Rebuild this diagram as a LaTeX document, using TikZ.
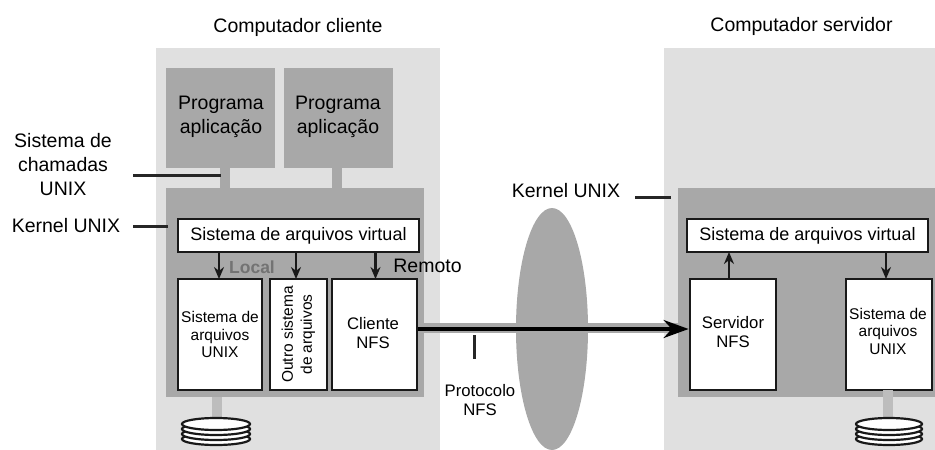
\documentclass[tikz,border=0pt]{standalone}
\usepackage{fontspec}
\setmainfont{Liberation Sans}
\usetikzlibrary{arrows, arrows.meta, shapes.geometric}

\definecolor{machinegrey}{HTML}{E0E0E0}
\definecolor{kernelgrey}{HTML}{A8A8A8}
\definecolor{stemgrey}{HTML}{BDBDBD}

\tikzset{
  region/.style={anchor=north west, inner sep=0pt, outer sep=0pt},
  fsbox/.style={draw=black!90, line width=2.8pt, fill=white, inner sep=0pt, align=center, font=\fontsize{15.5}{17.5}\selectfont},
  nfstext/.style={inner sep=0pt, align=center, font=\fontsize{16.7}{19}\selectfont},
  lbl/.style={inner sep=0pt, align=center, font=\fontsize{19.5}{24}\selectfont},
  tick/.style={draw=black!85, line width=3pt},
  stem/.style={draw=stemgrey, line width=9.5pt},
  call/.style={->, draw=black!90, line width=2.6pt}
}

% one stack of disks, centred on the top of the stack
\newcommand{\diskstack}[3]{
  \foreach \d in {3,2,1,0}
    \draw[black!90, line width=2.2pt, fill=white] (#1,#2+\d*5) ellipse (#3 and 6);
}

\begin{document}
\begin{tikzpicture}[x=1pt,y=-1pt,>={Stealth[length=12pt,width=10pt]}]
  \useasboundingbox (0,0) rectangle (935,450);

% define the two machines
  \node[region, fill=machinegrey, minimum width=284pt, minimum height=402pt] (client) at (156,48) {};
  \node[region, fill=machinegrey, minimum width=271pt, minimum height=402pt] (server) at (664,48) {};
  \node[lbl] (clienttitle) at (298,27) {Computador cliente};
  \node[lbl] (servertitle) at (801.5,26) {Computador servidor};

% define the network
  \node[ellipse, fill=kernelgrey, inner sep=0pt, minimum width=72pt, minimum height=242pt] (net) at (552,329) {};

% define the kernels
  \node[region, fill=kernelgrey, minimum width=258pt, minimum height=209pt] (clientkernel) at (166,188) {};
  \node[region, fill=kernelgrey, minimum width=257pt, minimum height=209pt] (serverkernel) at (678,188) {};

% define the programs
  \node[region, fill=kernelgrey, minimum width=109pt, minimum height=100pt] (prog1) at (166,68) {};
  \node[region, fill=kernelgrey, minimum width=109pt, minimum height=100pt] (prog2) at (284,68) {};
  \node[lbl] (prog1text) at (221,117) {Programa\\aplicação};
  \node[lbl] (prog2text) at (338,117) {Programa\\aplicação};
  \draw[stem, draw=kernelgrey] (225,168) -- (225,188);
  \draw[stem, draw=kernelgrey] (337,168) -- (337,188);

% define the boxes of the client
  \node[fsbox, font=\fontsize{18}{20}\selectfont, minimum width=241pt, minimum height=33pt] (vfs1) at (298.5,235.5) {Sistema de arquivos virtual};
  \node[fsbox, minimum width=84pt, minimum height=111pt] (ufs1) at (220,334.5) {Sistema de\\arquivos\\UNIX};
  \node[fsbox, minimum width=57pt, minimum height=111pt] (other) at (298.5,334.5) {\rotatebox{90}{\fontsize{15.5}{19}\selectfont\begin{tabular}{@{}c@{}}Outro sistema\\de arquivos\end{tabular}}};
  \node[fsbox, minimum width=85pt, minimum height=111pt] (nfsc) at (374.5,334.5) {};
  \node[nfstext] (nfsctext) at (373,333) {Cliente\\NFS};

% define the boxes of the server
  \node[fsbox, font=\fontsize{18}{20}\selectfont, minimum width=241pt, minimum height=33pt] (vfs2) at (807.5,235.5) {Sistema de arquivos virtual};
  \node[fsbox, minimum width=86pt, minimum height=111pt] (nfss) at (733,334.5) {};
  \node[nfstext] (nfsstext) at (733,332) {Servidor\\NFS};
  \node[fsbox, minimum width=86pt, minimum height=111pt] (ufs2) at (889,334.5) {};
  \node[inner sep=0pt, align=center, font=\fontsize{15.5}{17.5}\selectfont] (ufs2text) at (888,331) {Sistema de\\arquivos\\UNIX};

% define the links
  \draw[call] (219,252) -- (219,279);
  \draw[call] (296,252) -- (296,279);
  \draw[call] (375.5,252) -- (375.5,279);
  \draw[call] (729,279) -- (729,252);
  \draw[call] (886,252) -- (886,279);
  \draw[draw=kernelgrey, line width=10pt] (nfsc.east |- 0,328) -- (nfss.west |- 0,328);
  \draw[-{Stealth[length=25pt,width=18pt]}, black, line width=3.2pt] (nfsc.east |- 0,329) -- (nfss.west |- 0,329);

% define the disks
  \draw[stem] (217,397) -- (217,420);
  \draw[stem] (888,390) -- (888,420);
  \diskstack{216}{424}{34}
  \diskstack{889}{424}{33}

% define the other labels
  \node[lbl] (local) [text=black!55, font=\bfseries\fontsize{17.5}{20}\selectfont] at (252,267) {Local};
  \node[lbl] (remoto) at (427.5,266) {Remoto};
  \node[lbl] (syscalls) at (63,165) {Sistema de\\chamadas\\UNIX};
  \node[lbl] (kernel1) at (66,226) {Kernel UNIX};
  \node[lbl] (kernel2) at (566,191) {Kernel UNIX};
  \node[lbl] (proto) [font=\fontsize{16.7}{19}\selectfont] at (480,400) {Protocolo\\NFS};

% define the ticks
  \draw[tick] (133,175) -- (221,175);
  \draw[tick] (133,226) -- (168,226);
  \draw[tick] (635,197) -- (671,197);
  \draw[tick] (474,335) -- (474,359);
\end{tikzpicture}
\end{document}
